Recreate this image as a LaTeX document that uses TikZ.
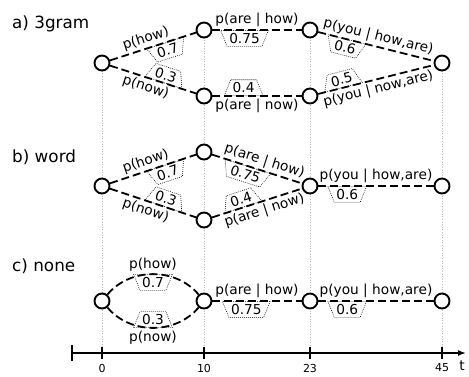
\documentclass[tikz,border=0pt]{standalone}
\usepackage{fontspec}
\setmainfont{DejaVu Sans}
\usetikzlibrary{arrows.meta,calc,shapes.geometric}

\begin{document}
\begin{tikzpicture}[x=1pt,y=-1pt,
  every node/.style={font=\fontsize{13.7}{16}\selectfont,inner sep=2pt},
  durum/.style={circle,draw,line width=1.9pt,fill=white,minimum size=15pt,inner sep=0pt},
  kenar/.style={line width=1.8pt,dash pattern=on 8pt off 4pt},
  agirlik/.style={trapezium,trapezium left angle=68,trapezium right angle=68,
                  draw,dash pattern=on 0.8pt off 1.2pt,line width=0.6pt,
                  inner xsep=1.5pt,inner ysep=2.5pt,minimum height=16pt,sloped},
  altagirlik/.style={agirlik,shape border rotate=180,below},
  ustagirlik/.style={agirlik,above},
  baslik/.style={font=\fontsize{16.8}{20}\selectfont,anchor=west},
  kilavuz/.style={gray!55,dotted,line width=0.6pt},
  zaman/.style={font=\fontsize{11}{13}\selectfont}]
\useasboundingbox (0,0) rectangle (469,376);

% kilavuz cizgileri
\coordinate (g0) at (102,63);  \coordinate (x0) at (102,353);
\coordinate (g1) at (204,30);  \coordinate (x1) at (204,353);
\coordinate (g2) at (310,30);  \coordinate (x2) at (310,353);
\coordinate (g3) at (442,63);  \coordinate (x3) at (442,353);
\foreach \i in {0,1,2,3} \draw[kilavuz] (g\i) -- (x\i);

% a) 3gram
\node[baslik] (ta) at (10,24) {a) 3gram};
\node[durum] (a0) at (102,63) {};
\node[durum] (a1) at (204,30) {};
\node[durum] (a2) at (204,96) {};
\node[durum] (a3) at (310,30) {};
\node[durum] (a4) at (310,96) {};
\node[durum] (a5) at (442,63) {};
\draw[kenar] (a0) -- node[above,sloped,pos=.45]{p(how)} node[altagirlik,pos=.64]{0.7} (a1);
\draw[kenar] (a0) -- node[below,sloped,pos=.45]{p(now)} node[ustagirlik,pos=.62]{0.3} (a2);
\draw[kenar] (a1) -- node[above]{p(are | how)} node[altagirlik,pos=.36]{0.75} (a3);
\draw[kenar] (a2) -- node[below]{p(are | now)} node[ustagirlik,pos=.35]{0.4} (a4);
\draw[kenar] (a3) -- node[above,sloped]{p(you | how,are)} node[altagirlik,pos=.25]{0.6} (a5);
\draw[kenar] (a4) -- node[below,sloped]{p(you | now,are)} node[ustagirlik,pos=.22]{0.5} (a5);

% b) word
\node[baslik] (tb) at (10,157) {b) word};
\node[durum] (b0) at (102,186) {};
\node[durum] (b1) at (204,152) {};
\node[durum] (b2) at (204,220) {};
\node[durum] (b3) at (310,186) {};
\node[durum] (b4) at (442,186) {};
\draw[kenar] (b0) -- node[above,sloped,pos=.45]{p(how)} node[altagirlik,pos=.64]{0.7} (b1);
\draw[kenar] (b0) -- node[below,sloped,pos=.45]{p(now)} node[ustagirlik,pos=.62]{0.3} (b2);
\draw[kenar] (b1) -- node[above,sloped,pos=.55]{p(are | how)} node[altagirlik,pos=.4]{0.75} (b3);
\draw[kenar] (b2) -- node[below,sloped,pos=.55]{p(are | now)} node[ustagirlik,pos=.35]{0.4} (b3);
\draw[kenar] (b3) -- node[above]{p(you | how,are)} node[altagirlik,pos=.25]{0.6} (b4);

% c) none
\node[baslik] (tc) at (10,266) {c) none};
\node[durum] (c0) at (102,301) {};
\node[durum] (c1) at (204,301) {};
\node[durum] (c2) at (310,301) {};
\node[durum] (c3) at (442,301) {};
\draw[kenar] (c0) to[bend left=50] node[above]{p(how)} node[altagirlik]{0.7} (c1);
\draw[kenar] (c0) to[bend right=50] node[below]{p(now)} node[ustagirlik]{0.3} (c1);
\draw[kenar] (c1) -- node[above]{p(are | how)} node[altagirlik,pos=.38]{0.75} (c2);
\draw[kenar] (c2) -- node[above]{p(you | how,are)} node[altagirlik,pos=.25]{0.6} (c3);

% zaman ekseni
\coordinate (e0) at (72,353);
\coordinate (e1) at (466,353);
\draw[line width=1.5pt,-{Latex[length=8pt]}] (e0) -- (e1);
\draw[line width=1.2pt] (72,345) -- (72,361);
\foreach \i/\t in {0/0,1/10,2/23,3/45} {
  \draw[line width=1.2pt] ($(x\i)+(0,-6)$) -- ($(x\i)+(0,6)$);
  \node[zaman] (z\i) at ($(x\i)+(0,15)$) {\t};
}
\node (zt) at (462,366) {t};
\end{tikzpicture}
\end{document}
